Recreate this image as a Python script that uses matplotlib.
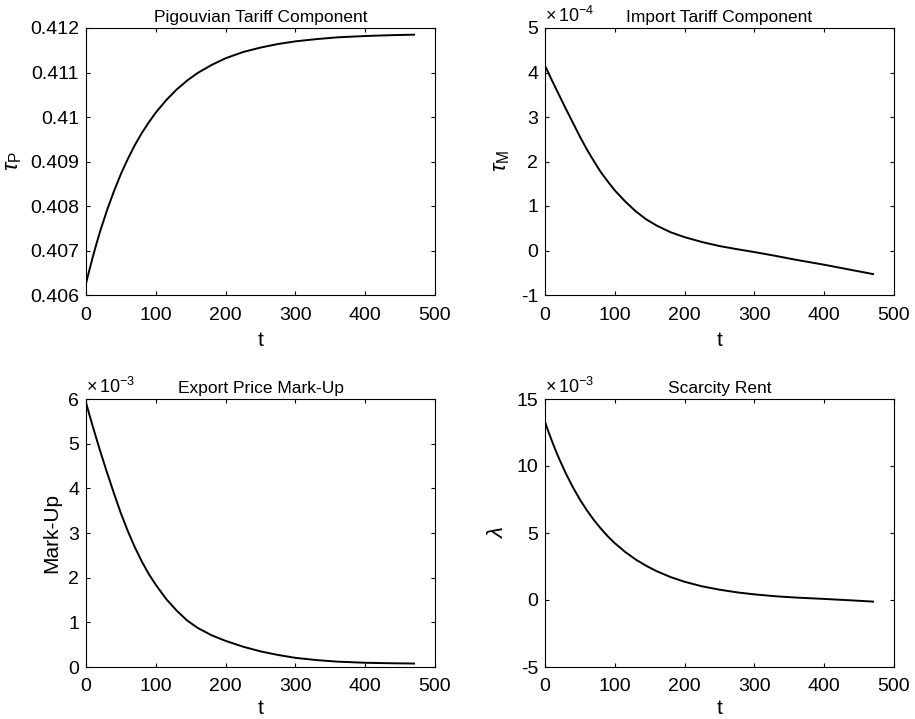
import matplotlib
matplotlib.use("Agg")
import matplotlib.pyplot as plt

plt.rcParams['font.family'] = ['Liberation Sans', 'DejaVu Sans']
plt.rcParams['mathtext.fontset'] = 'custom'
plt.rcParams['mathtext.rm'] = 'Liberation Sans'
plt.rcParams['mathtext.it'] = 'Liberation Sans:italic'
plt.rcParams['mathtext.bf'] = 'Liberation Sans:bold'

# ---- data ----
t = [0, 5, 10, 15, 20, 30, 40, 50, 60, 70, 80, 90, 100, 115, 130, 145, 160, 180,
     200, 225, 250, 275, 300, 330, 360, 400, 440, 470]

tau_P = [0.40626, 0.40657, 0.40687, 0.40715, 0.40742, 0.40790, 0.40833, 0.40872,
         0.40906, 0.40937, 0.40964, 0.40988, 0.41010, 0.41038, 0.41062, 0.41082,
         0.41099, 0.41117, 0.41132, 0.41146, 0.41156, 0.41164, 0.41170, 0.41175,
         0.41179, 0.41182, 0.41184, 0.41185]

tau_M = [4.15, 3.99, 3.82, 3.66, 3.50, 3.18, 2.87, 2.56, 2.27, 2.01, 1.76, 1.55,
         1.35, 1.10, 0.88, 0.70, 0.56, 0.41, 0.30, 0.19, 0.10, 0.03, -0.035, -0.12,
         -0.21, -0.32, -0.44, -0.53]

markup = [5.92, 5.64, 5.37, 5.11, 4.85, 4.36, 3.89, 3.44, 3.04, 2.68, 2.36, 2.08,
          1.84, 1.52, 1.26, 1.04, 0.875, 0.71, 0.585, 0.455, 0.35, 0.27, 0.205,
          0.155, 0.12, 0.095, 0.083, 0.078]

lam = [13.3, 12.55, 11.86, 11.19, 10.57, 9.43, 8.41, 7.50, 6.69, 5.97, 5.33, 4.75,
       4.24, 3.58, 3.02, 2.55, 2.15, 1.71, 1.36, 1.02, 0.77, 0.57, 0.42, 0.28,
       0.18, 0.08, -0.03, -0.12]

xticks = [0, 100, 200, 300, 400, 500]
tp_ticks = [0.406, 0.407, 0.408, 0.409, 0.410, 0.411, 0.412]
tp_labels = ['0.406', '0.407', '0.408', '0.409', '0.41', '0.411', '0.412']
tm_ticks = [-1, 0, 1, 2, 3, 4, 5]
mu_ticks = [0, 1, 2, 3, 4, 5, 6]
lam_ticks = [-5, 0, 5, 10, 15]

titles = ['Pigouvian Tariff Component', 'Import Tariff Component',
          'Export Price Mark-Up', 'Scarcity Rent']
ylabels = [r'$\tau_{\mathrm{P}}$', r'$\tau_{\mathrm{M}}$', 'Mark-Up', r'$\lambda$']
multipliers = [None, '-4', '-3', '-3']

W, H = 915, 719
fig = plt.figure(figsize=(W / 100, H / 100), dpi=100)

def pos(l, r, top, bot):
    return [l / W, 1 - bot / H, (r - l) / W, (bot - top) / H]

axes = [fig.add_axes(pos(86, 435, 28, 295)),
        fig.add_axes(pos(545, 894, 28, 295)),
        fig.add_axes(pos(86, 435, 399, 667)),
        fig.add_axes(pos(545, 894, 399, 667))]

series = [tau_P, tau_M, markup, lam]
yt = [tp_ticks, tm_ticks, mu_ticks, lam_ticks]
ylims = [(0.406, 0.412), (-1, 5), (0, 6), (-5, 15)]
ylabelpads = [4, 6, 5, 6]
xlabelpads = [5, 5, 2.5, 2.5]

for i, ax in enumerate(axes):
    ax.plot(t, series[i], color='black', lw=1.4)
    ax.set_xlim(0, 500)
    ax.set_ylim(*ylims[i])
    ax.set_xticks(xticks)
    ax.set_yticks(yt[i])
    if i == 0:
        ax.set_yticklabels(tp_labels)
    else:
        ax.set_yticklabels([str(v) for v in yt[i]])
    ax.tick_params(direction='in', top=True, right=True, length=2.7, width=0.8,
                   labelsize=14)
    ax.tick_params(axis='x', pad=9 if i < 2 else 8)
    ax.tick_params(axis='y', pad=5)
    for s in ax.spines.values():
        s.set_linewidth(0.8)
    ax.set_title(titles[i], fontsize=12.5, pad=4)
    ax.set_xlabel('t', fontsize=15, labelpad=xlabelpads[i])
    ax.set_ylabel(ylabels[i], fontsize=15 if i == 2 else 16,
                  labelpad=ylabelpads[i])
    if multipliers[i]:
        ax.text(0.0, 1.008, r'$\times\,10^{' + multipliers[i] + '}$',
                transform=ax.transAxes, fontsize=13, ha='left', va='bottom')

fig.savefig('out.png', dpi=100)
